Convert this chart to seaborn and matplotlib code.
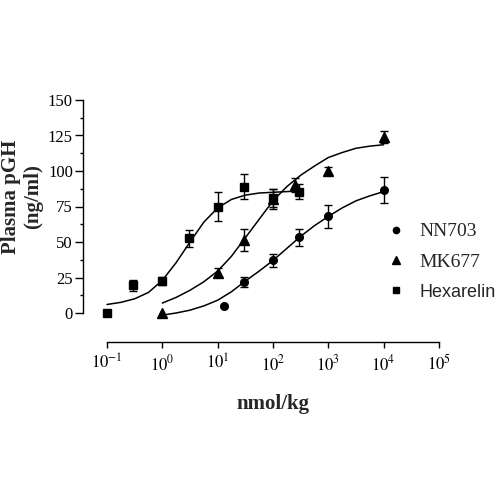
import numpy as np
import matplotlib
matplotlib.use("Agg")
import matplotlib.pyplot as plt
import seaborn as sns
from matplotlib.lines import Line2D
from matplotlib.ticker import FixedLocator

# measured points (dose in nmol/kg, plasma pGH in ng/ml, error = SEM)
nn703_dose = [13, 30, 100, 300, 1000, 10000]
nn703_gh = [5, 22, 37, 53.5, 68, 86.5]
nn703_err = [np.nan, 3.5, 4.5, 6, 8, 9]

mk677_dose = [1, 10, 30, 100, 250, 1000, 10000]
mk677_gh = [0, 28.5, 51.5, 80, 90, 100, 124]
mk677_err = [np.nan, 3, 8, 7, 5, 3, 4]

hex_dose = [0.1, 0.3, 1, 3, 10, 30, 100, 300]
hex_gh = [0, 19.5, 22.5, 52.5, 75, 89, 81, 85.5]
hex_err = [np.nan, 4, 3, 6, 10, 9, 6, 5.5]

# fitted dose-response curves (log10 dose -> pGH)
hex_fit_logx = [-1.0, -0.75, -0.5, -0.25, 0.0, 0.25, 0.5, 0.75, 1.0,
                1.25, 1.5, 1.75, 2.0, 2.25, 2.5]
hex_fit_y = [6, 7.5, 10, 14.5, 23, 35.5, 50, 64, 74, 80, 83, 84.5, 85,
             85.5, 86]

mk677_fit_logx = [0.0, 0.25, 0.5, 0.75, 1.0, 1.25, 1.5, 1.75, 2.0, 2.25,
                  2.5, 2.75, 3.0, 3.25, 3.5, 3.75, 4.0]
mk677_fit_y = [7, 11, 16, 22, 29.5, 40, 53, 66, 79, 89, 97, 103.5, 109.5,
               113, 116, 117.5, 118.5]

nn703_fit_logx = [0.0, 0.25, 0.5, 0.75, 1.0, 1.25, 1.5, 1.75, 2.0, 2.25,
                  2.5, 2.75, 3.0, 3.25, 3.5, 3.75, 4.0]
nn703_fit_y = [-1.5, 0, 2, 5, 9, 15, 22.5, 29.5, 37, 45.5, 54, 61.5, 68,
               74, 79, 82.5, 85.5]

x_ticks = [0.1, 1, 10, 100, 1000, 10000, 100000]
x_tick_labels = [r"$10^{-1}$", r"$10^{0}$", r"$10^{1}$", r"$10^{2}$",
                 r"$10^{3}$", r"$10^{4}$", r"$10^{5}$"]
y_ticks = [0, 25, 50, 75, 100, 125, 150]

sns.set_theme(style="ticks")
plt.rcParams["font.family"] = ["Liberation Serif", "DejaVu Serif"]
plt.rcParams["mathtext.fontset"] = "stix"

fig = plt.figure(figsize=(5, 5), dpi=100)
ax = fig.add_axes([0.214, 0.374, 0.664, 0.426])

# curves
for lx, ly in [(hex_fit_logx, hex_fit_y),
               (mk677_fit_logx, mk677_fit_y),
               (nn703_fit_logx, nn703_fit_y)]:
    sns.lineplot(x=10 ** np.array(lx), y=ly, ax=ax, color="black",
                 linewidth=1.1, sort=False, clip_on=False, zorder=2)

# points with error bars
series = [
    (nn703_dose, nn703_gh, nn703_err, "o", 5.5),
    (mk677_dose, mk677_gh, mk677_err, "^", 7.5),
    (hex_dose, hex_gh, hex_err, "s", 6),
]
for dose, gh, err, mk, ms in series:
    ax.errorbar(dose, gh, yerr=err, fmt=mk, color="black", ms=ms,
                elinewidth=1.0, capsize=3, capthick=1.0, clip_on=False,
                zorder=3)

ax.set_xscale("log")
ax.set_xlim(0.1, 100000)
ax.set_ylim(0, 150)
ax.xaxis.set_major_locator(FixedLocator(x_ticks))
ax.xaxis.set_minor_locator(FixedLocator([]))
ax.set_xticklabels(x_tick_labels)
ax.set_yticks(y_ticks)
ax.yaxis.set_minor_locator(FixedLocator(np.arange(12.5, 150, 25)))

ax.tick_params(axis="both", which="major", labelsize=12, width=1.0,
               color="black", labelcolor="black", pad=2)
ax.tick_params(axis="y", which="major", length=5.5)
ax.tick_params(axis="x", which="major", length=4.5, pad=4)
ax.tick_params(axis="y", which="minor", length=2.5, width=1.0,
               color="black", left=True)

sns.despine(ax=ax, offset={"left": 17, "bottom": 21})
for side in ["left", "bottom"]:
    ax.spines[side].set_color("black")
    ax.spines[side].set_linewidth(1.0)

ax.set_xlabel("nmol/kg", fontsize=15, fontweight="bold", labelpad=14.5)
ax.set_ylabel("Plasma pGH\n(ng/ml)", fontsize=15, fontweight="bold",
              linespacing=1.1)
ax.yaxis.set_label_coords(-0.193, 0.545)

handles = [
    Line2D([], [], marker="o", color="black", ls="none", ms=4.5),
    Line2D([], [], marker="^", color="black", ls="none", ms=6),
    Line2D([], [], marker="s", color="black", ls="none", ms=5),
]
leg = ax.legend(handles, ["NN703", "MK677", "Hexarelin"], frameon=False,
                loc="upper left", bbox_to_anchor=(0.754, 0.574),
                bbox_transform=fig.transFigure, fontsize=14,
                handlelength=1.0, handletextpad=0.7, labelspacing=0.65,
                borderpad=0)
hex_text = leg.get_texts()[2]
hex_text.set_family(["Liberation Sans", "DejaVu Sans"])
hex_text.set_fontsize(13)

fig.savefig("out.png", dpi=100, facecolor="white")
